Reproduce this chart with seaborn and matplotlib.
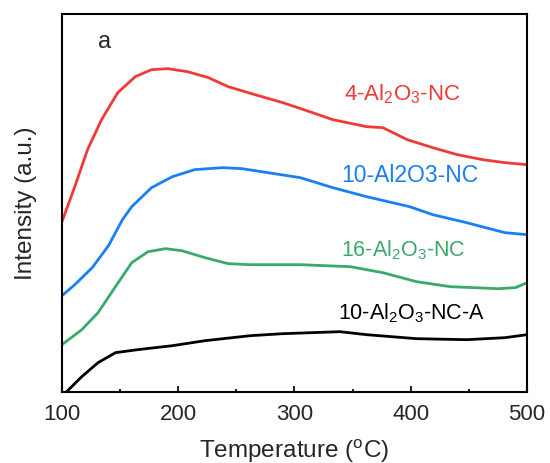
import numpy as np
import pandas as pd
import matplotlib
matplotlib.use('Agg')
import matplotlib.pyplot as plt
from matplotlib.ticker import MultipleLocator
import seaborn as sns

# Temperature readings (degC) and intensities (a.u.)
t_red = [100, 111, 122, 134, 148, 163, 177, 191, 208, 226, 243, 266, 290, 313, 333, 362, 376, 397, 419, 440, 462, 481, 500]
i_red = [170, 205, 242, 272, 299, 315, 322, 323, 320, 314, 305, 297, 289, 280, 272, 265, 264, 252, 244, 237, 232, 229, 227]

t_blue = [100, 111, 126, 140, 152, 160, 177, 195, 214, 238, 255, 266, 305, 333, 362, 399, 419, 448, 481, 500]
i_blue = [96, 107, 124, 146, 172, 185, 204, 215, 222, 224, 223, 221, 214, 204, 195, 185, 177, 169, 159, 157]

t_green = [100, 117, 131, 146, 160, 174, 189, 203, 223, 243, 262, 305, 348, 376, 405, 434, 475, 490, 500]
i_green = [47, 62, 79, 105, 129, 140, 143, 141, 134, 128, 127, 127, 125, 119, 110, 105, 103, 104, 109]

t_black = [100, 104, 117, 131, 146, 165, 195, 223, 262, 290, 339, 362, 405, 448, 481, 500]
i_black = [-5, 0, 15, 29, 39, 42, 46, 51, 56, 58, 60, 57, 53, 52, 54, 57]

series = [
    ('4-Al$_2$O$_3$-NC', t_red, i_red, '#f03a3a', 16),
    ('10-Al2O3-NC', t_blue, i_blue, '#1a7ff0', 16.5),
    ('16-Al$_2$O$_3$-NC', t_green, i_green, '#3aaa6a', 15.5),
    ('10-Al$_2$O$_3$-NC-A', t_black, i_black, '#000000', 15.5),
]
label_pos = [(393, 298), (399, 217), (394, 142), (401, 79)]

sns.set_style('ticks')
plt.rcParams['font.family'] = ['Liberation Sans', 'DejaVu Sans']
plt.rcParams['mathtext.fontset'] = 'custom'
plt.rcParams['mathtext.rm'] = 'Liberation Sans'

fig = plt.figure(figsize=(5.5, 4.64), dpi=100)
ax = fig.add_axes([0.1127, 0.1537, 0.8455, 0.8147])

for (name, t, i, c, fs), (lx, ly) in zip(series, label_pos):
    df = pd.DataFrame({'T': t, 'I': i})
    sns.lineplot(data=df, x='T', y='I', color=c, linewidth=2, ax=ax, sort=False)
    ax.text(lx, ly, name, color=c, fontsize=fs, ha='center', va='center')

ax.text(137, 351, 'a', fontsize=17, ha='center', va='center')

ax.set_xlim(100, 500)
ax.set_ylim(0, 378)
ax.set_yticks([])
ax.xaxis.set_major_locator(MultipleLocator(100))
ax.xaxis.set_minor_locator(MultipleLocator(50))
ax.tick_params(axis='x', which='major', direction='in', length=4.5, width=1.5,
               labelsize=16, pad=8)
ax.tick_params(axis='x', which='minor', direction='in', length=2.2, width=1.5)
for s in ax.spines.values():
    s.set_visible(True)
    s.set_linewidth(1.5)
    s.set_color('black')

ax.set_xlabel('Temperature ($^{\\rm o}$C)', fontsize=17.5, labelpad=9)
ax.set_ylabel('Intensity (a.u.)', fontsize=17.5, labelpad=18)

fig.savefig('out.png', dpi=100)
